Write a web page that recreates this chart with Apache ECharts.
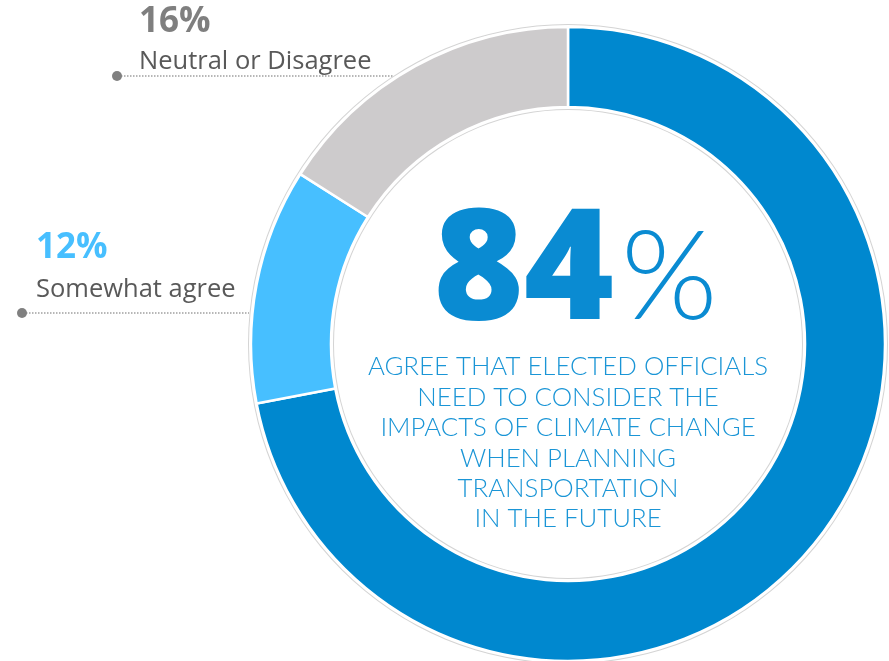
<!DOCTYPE html>
<html>
<head>
<meta charset="utf-8">
<script src="https://cdn.jsdelivr.net/npm/echarts@6/dist/echarts.min.js"></script>
<style>
  html, body { margin: 0; padding: 0; background: #ffffff; }
  #chart { width: 889px; height: 661px; }
</style>
</head>
<body>
<div id="chart"></div>
<script>
// Survey answers, drawn clockwise from 12 o'clock
const categories = ['Strongly agree', 'Somewhat agree', 'Neutral or Disagree'];
const values = [72, 12, 16];
const colors = ['#0088cf', '#47bfff', '#cdcbcc'];

// Captions placed beside the two smaller slices
const calloutIndexes = [2, 1];
const calloutColors = ['#7f7f7f', '#47bfff'];

const headline = 'AGREE THAT ELECTED OFFICIALS\nNEED TO CONSIDER THE\nIMPACTS OF CLIMATE CHANGE\nWHEN PLANNING\nTRANSPORTATION\nIN THE FUTURE';

const agreeTotal = values[0] + values[1];

const cx = 568, cy = 344;

const chart = echarts.init(document.getElementById('chart'), null, { renderer: 'canvas' });

const calloutLayout = [
  { dot: [117, 76], lineEnd: 393, pctY: 5, nameY: 49, textX: 139 },
  { dot: [22, 313], lineEnd: 249, pctY: 231, nameY: 277, textX: 36 }
];

const graphics = [];
calloutIndexes.forEach((idx, i) => {
  const L = calloutLayout[i];
  graphics.push({
    type: 'line',
    shape: { x1: L.dot[0] + 4, y1: L.dot[1], x2: L.lineEnd, y2: L.dot[1] },
    style: { stroke: '#a0a0a0', lineWidth: 1.5, lineDash: [1.5, 1.5] }
  });
  graphics.push({
    type: 'circle',
    shape: { cx: L.dot[0], cy: L.dot[1], r: 5 },
    style: { fill: '#808080' }
  });
  graphics.push({
    type: 'text',
    x: L.textX, y: L.pctY,
    style: {
      text: values[idx] + '%',
      font: 'bold 35px "Open Sans", sans-serif',
      fill: calloutColors[i],
      textAlign: 'left', textVerticalAlign: 'top'
    }
  });
  graphics.push({
    type: 'text',
    x: L.textX, y: L.nameY,
    style: {
      text: categories[idx],
      font: '25.5px "Open Sans", sans-serif',
      fill: '#595959',
      textAlign: 'left', textVerticalAlign: 'top'
    }
  });
});

// Centre figure: share who agree overall
graphics.push({
  type: 'text',
  x: 614, y: 275,
  style: {
    text: String(agreeTotal),
    font: '800 154px "Open Sans", Lato, sans-serif',
    fill: '#0a8bd2',
    textAlign: 'right', textVerticalAlign: 'middle'
  }
});
graphics.push({
  type: 'text',
  x: 621, y: 279,
  style: {
    text: '%',
    font: '300 124px Lato, sans-serif',
    fill: '#0a8bd2',
    textAlign: 'left', textVerticalAlign: 'middle'
  }
});
graphics.push({
  type: 'text',
  x: cx, y: 443,
  style: {
    text: headline,
    font: '300 25.8px Lato, sans-serif',
    lineHeight: 30.4,
    fill: '#1a95d6',
    textAlign: 'center', textVerticalAlign: 'middle'
  }
});

chart.setOption({
  animation: false,
  backgroundColor: '#ffffff',
  graphic: graphics,
  series: [
    {
      // faint outline around the ring
      type: 'pie', silent: true, center: [cx, cy], radius: [234, 320],
      label: { show: false }, labelLine: { show: false },
      itemStyle: { color: '#d4d4d4' },
      data: [{ value: 1 }], z: 1
    },
    {
      type: 'pie', silent: true, center: [cx, cy], radius: [235, 319],
      label: { show: false }, labelLine: { show: false },
      itemStyle: { color: '#ffffff' },
      data: [{ value: 1 }], z: 2
    },
    {
      type: 'pie',
      center: [cx, cy],
      radius: [237, 317],
      startAngle: 90,
      clockwise: true,
      label: { show: false },
      labelLine: { show: false },
      itemStyle: { borderColor: '#ffffff', borderWidth: 2.5 },
      data: categories.map((name, i) => ({
        name, value: values[i], itemStyle: { color: colors[i] }
      })),
      z: 3
    }
  ]
});
</script>
</body>
</html>
